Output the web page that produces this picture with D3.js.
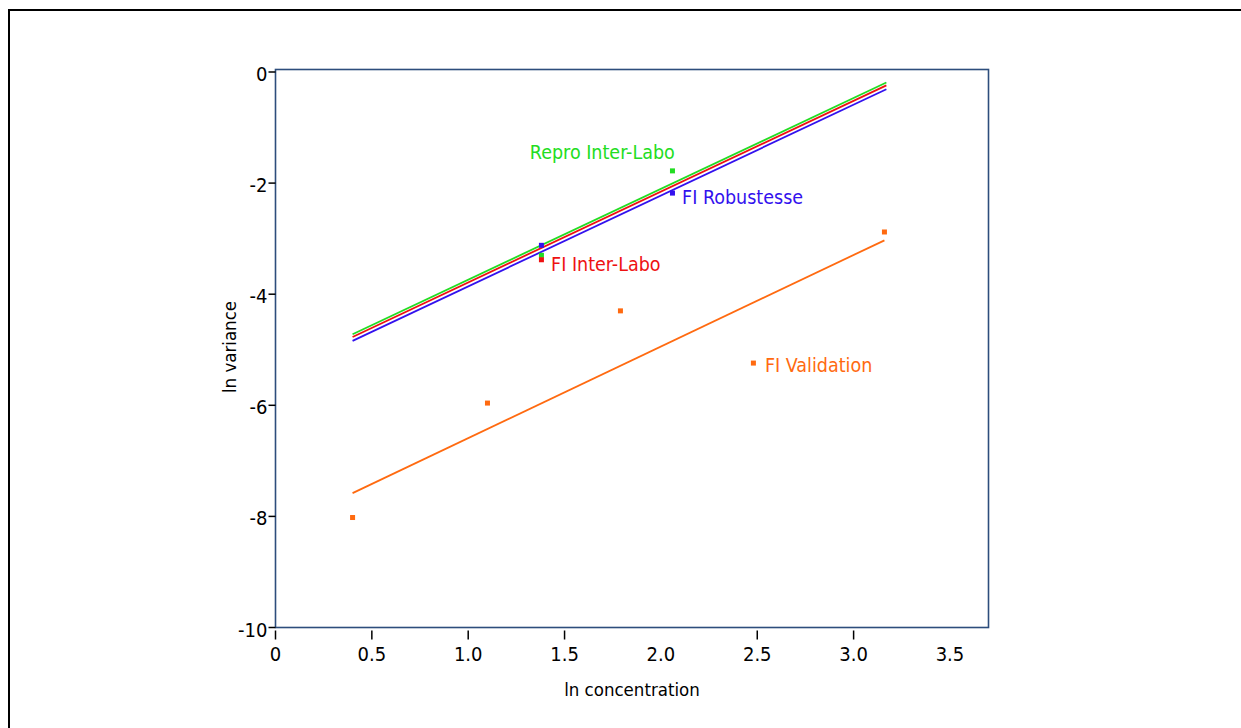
<!DOCTYPE html>
<html>
<head>
<meta charset="utf-8">
<script src="https://cdn.jsdelivr.net/npm/d3@7"></script>
<style>
  body { margin: 0; background: #fff; }
  svg { display: block; }
  text { font-family: "DejaVu Sans Condensed", "DejaVu Sans", sans-serif; }
</style>
</head>
<body>
<svg id="chart" width="1241" height="728"></svg>
<script>
// Data (ln concentration vs ln variance)
const xTicks = [0, 0.5, 1.0, 1.5, 2.0, 2.5, 3.0, 3.5];
const xTickMarks = [0, 0.5, 1.0, 1.5, 2.5, 3.0];   // ticks drawn in the original
const yTicks = [0, -2, -4, -6, -8, -10];

const reproPts = [[1.38, -3.30], [2.06, -1.78]];
const robustPts = [[1.38, -3.12], [2.06, -2.18]];
const interPts = [[1.38, -3.38]];
const validPts = [[0.40, -8.02], [1.10, -5.96], [1.79, -4.30], [2.48, -5.24], [3.16, -2.88]];

const reproLine = [[0.40, -4.72], [3.17, -0.19]];
const interLine = [[0.40, -4.77], [3.17, -0.24]];
const robustLine = [[0.40, -4.84], [3.17, -0.31]];
const validLine = [[0.40, -7.58], [3.16, -3.03]];

const seriesNames = ["Repro Inter-Labo", "FI Robustesse", "FI Inter-Labo", "FI Validation"];
const seriesColors = ["#22dd22", "#3311ee", "#ee1111", "#ff6a10"];
const labelPos = [[1.32, -1.57], [2.11, -2.37], [1.43, -3.58], [2.54, -5.40]];

const svg = d3.select("#chart");

// outer frame
svg.append("rect")
  .attr("x", 9).attr("y", 10)
  .attr("width", 1400).attr("height", 900)
  .attr("fill", "none").attr("stroke", "#000").attr("stroke-width", 2);

const x = d3.scaleLinear().domain([0, 3.7]).range([275.5, 988.5]);
const y = d3.scaleLinear().domain([-10, 0.045]).range([627.5, 69.5]);

// plot box
svg.append("rect")
  .attr("x", x.range()[0]).attr("y", y.range()[1])
  .attr("width", x.range()[1] - x.range()[0])
  .attr("height", y.range()[0] - y.range()[1])
  .attr("fill", "none").attr("stroke", "#2d4d7c").attr("stroke-width", 1.6);

// x axis
const xa = svg.append("g").attr("transform", `translate(0,${y.range()[0] + 2})`);
xa.selectAll("line").data(xTickMarks).enter().append("line")
  .attr("x1", d => x(d)).attr("x2", d => x(d))
  .attr("y1", 1).attr("y2", 10)
  .attr("stroke", "#000").attr("stroke-width", 1.5);
xa.selectAll("text").data(xTicks).enter().append("text")
  .attr("x", d => x(d)).attr("y", 31)
  .attr("text-anchor", "middle")
  .attr("font-size", 20)
  .text(d => d === 0 ? "0" : d3.format(".1f")(d));

// y axis
const ya = svg.append("g");
ya.selectAll("line").data(yTicks).enter().append("line")
  .attr("x1", x.range()[0] - 7).attr("x2", x.range()[0])
  .attr("y1", d => y(d)).attr("y2", d => y(d))
  .attr("stroke", "#000").attr("stroke-width", 1.5);
ya.selectAll("text").data(yTicks).enter().append("text")
  .attr("x", x.range()[0] - 8).attr("y", d => y(d) + 9)
  .attr("text-anchor", "end")
  .attr("font-size", 20)
  .text(d => d);

// axis titles
svg.append("text")
  .attr("x", 632).attr("y", 696)
  .attr("text-anchor", "middle").attr("font-size", 18.5)
  .text("ln concentration");
svg.append("text")
  .attr("transform", "translate(236,347) rotate(-90)")
  .attr("text-anchor", "middle").attr("font-size", 18.5)
  .text("ln variance");

// regression lines
const line = d3.line().x(d => x(d[0])).y(d => y(d[1]));
const lines = [reproLine, robustLine, interLine, validLine];
[3, 0, 2, 1].forEach(i => {
  svg.append("path")
    .attr("d", line(lines[i]))
    .attr("fill", "none")
    .attr("stroke", seriesColors[i])
    .attr("stroke-width", 1.8);
});

// points
const pts = [reproPts, robustPts, interPts, validPts];
pts.forEach((p, i) => {
  svg.append("g").selectAll("rect").data(p).enter().append("rect")
    .attr("x", d => x(d[0]) - 2.5).attr("y", d => y(d[1]) - 2.5)
    .attr("width", 5).attr("height", 5)
    .attr("fill", seriesColors[i]);
});

// series labels
seriesNames.forEach((name, i) => {
  svg.append("text")
    .attr("x", x(labelPos[i][0])).attr("y", y(labelPos[i][1]))
    .attr("font-size", 19.5)
    .attr("fill", seriesColors[i])
    .text(name);
});
</script>
</body>
</html>
